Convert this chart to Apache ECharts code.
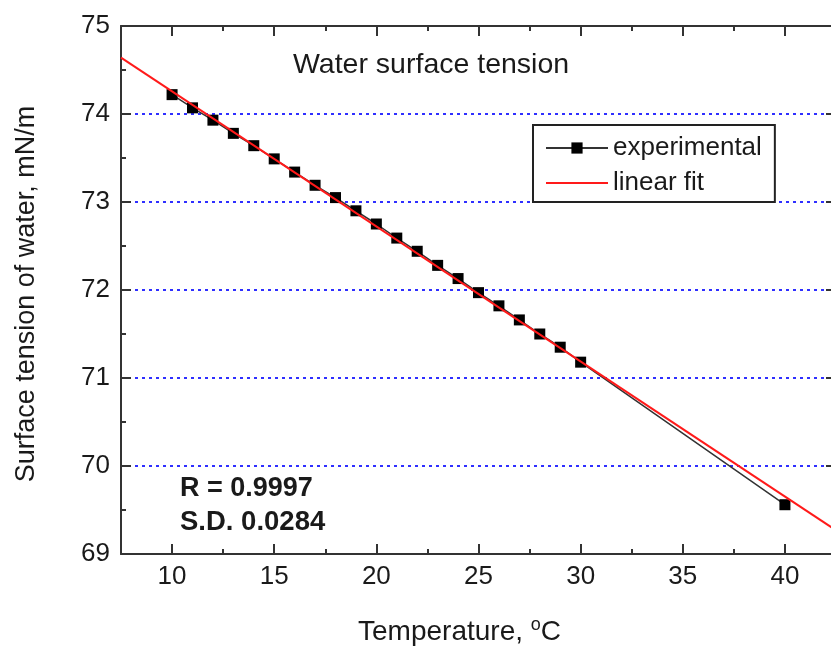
<!DOCTYPE html>
<html lang="en">
<head>
    <meta charset="UTF-8"/>
    <title>Water surface tension</title>
    <style>
        * { margin: 0; padding: 0; }
        body { background: #fff; }
        #chart { width: 831px; height: 653px; }
    </style>
    <script src="https://cdn.jsdelivr.net/npm/echarts@6/dist/echarts.min.js"></script>
</head>
<body>
<div id="chart"></div>
<script>
    // experimental points (temperature, surface tension)
    const temps = [10, 11, 12, 13, 14, 15, 16, 17, 18, 19, 20,
        21, 22, 23, 24, 25, 26, 27, 28, 29, 30, 40];
    const tension = [74.22, 74.07, 73.93, 73.78, 73.64, 73.49, 73.34, 73.19, 73.05, 72.90, 72.75,
        72.59, 72.44, 72.28, 72.13, 71.97, 71.82, 71.66, 71.50, 71.35, 71.18, 69.56];
    // linear fit, end points
    const fitX = [7.5, 42.5];
    const fitY = [74.64, 69.27];

    const font = "'Liberation Sans', Arial, sans-serif";
    const textColor = "#1a1a1a";
    const axisColor = "#333";

    const expData = temps.map((t, i) => [t, tension[i]]);
    const fitData = fitX.map((t, i) => [t, fitY[i]]);

    const chart = echarts.init(document.getElementById("chart"));

    const frameX = (pos, labels) => ({
        type: "value",
        position: pos,
        min: 7.5,
        max: 42.5,
        splitNumber: 7,
        axisLine: {show: true, onZero: false, lineStyle: {color: axisColor, width: 2}},
        axisTick: {show: true, inside: true, length: 10, lineStyle: {color: axisColor, width: 2}},
        minorTick: {show: true, splitNumber: 2, length: 5, lineStyle: {color: axisColor, width: 2}},
        splitLine: {show: false},
        axisLabel: {
            show: labels,
            margin: 10,
            fontSize: 26,
            fontFamily: font,
            color: textColor,
            formatter: v => (v % 5 === 0 ? String(v) : "")
        },
        name: labels ? "Temperature, {sup|o}C" : "",
        nameLocation: "middle",
        nameGap: 62,
        nameTextStyle: {
            fontSize: 28,
            fontFamily: font,
            color: textColor,
            padding: [0, 38, 0, 0],
            rich: {sup: {fontSize: 18, fontFamily: font, color: textColor, verticalAlign: "top", padding: [0, 0, 15, 0]}}
        }
    });

    const frameY = (pos, labels) => ({
        type: "value",
        position: pos,
        min: 69,
        max: 75,
        interval: 1,
        axisLine: {show: true, onZero: false, lineStyle: {color: axisColor, width: 2}},
        axisTick: {show: true, inside: true, length: 10, lineStyle: {color: axisColor, width: 2}},
        minorTick: {show: true, splitNumber: 2, length: 5, lineStyle: {color: axisColor, width: 2}},
        splitLine: {
            show: labels,
            showMinLine: false,
            showMaxLine: false,
            lineStyle: {color: "#2f2fff", width: 2, type: [3, 4]}
        },
        axisLabel: {
            show: labels,
            margin: 11,
            fontSize: 26,
            fontFamily: font,
            color: textColor
        },
        name: labels ? "Surface tension of water, mN/m" : "",
        nameLocation: "middle",
        nameGap: 81,
        nameTextStyle: {fontSize: 27, fontFamily: font, color: textColor, padding: [0, 8, 0, 0]}
    });

    chart.setOption({
        animation: false,
        backgroundColor: "#fff",
        grid: {left: 121, top: 26, width: 715, height: 528, outerBoundsMode: "none", containLabel: false},
        xAxis: [frameX("bottom", true), frameX("top", false)],
        yAxis: [frameY("left", true), frameY("right", false)],
        legend: {
            left: 533,
            top: 125,
            orient: "vertical",
            padding: [10, 13, 6, 12],
            borderColor: "#222",
            borderWidth: 2,
            itemWidth: 62,
            itemHeight: 14,
            itemGap: 9,
            textStyle: {fontSize: 26, fontFamily: font, color: textColor},
            data: [
                {name: "experimental"},
                {name: "linear fit", itemStyle: {opacity: 0}}
            ]
        },
        graphic: [
            {
                type: "text", left: 293, top: 51,
                style: {text: "Water surface tension", fontSize: 28.5, fontFamily: font, fill: textColor}
            },
            {
                type: "text", left: 180, top: 475,
                style: {text: "R = 0.9997", fontSize: 27, fontWeight: "bold", fontFamily: font, fill: textColor}
            },
            {
                type: "text", left: 180, top: 508,
                style: {text: "S.D. 0.0284", fontSize: 27.5, fontWeight: "bold", fontFamily: font, fill: textColor}
            }
        ],
        series: [
            {
                name: "experimental",
                type: "line",
                data: expData,
                symbol: "rect",
                symbolSize: 11,
                lineStyle: {color: "#333", width: 1.5},
                itemStyle: {color: "#000"},
                z: 2
            },
            {
                name: "linear fit",
                type: "line",
                data: fitData,
                symbol: "none",
                lineStyle: {color: "#ff1a1a", width: 2},
                itemStyle: {color: "#ff1a1a"},
                z: 3
            }
        ]
    });
</script>
</body>
</html>
